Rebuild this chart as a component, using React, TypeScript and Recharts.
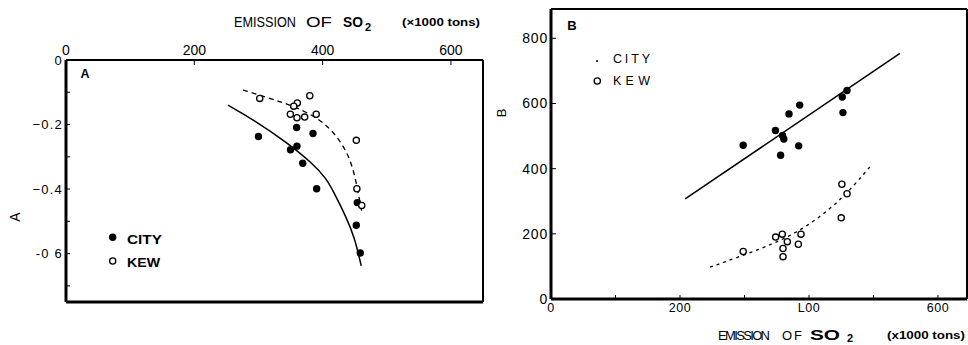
import React from 'react';
import { ComposedChart, XAxis, YAxis, Scatter, Line } from 'recharts';

const FONT = '"Liberation Sans", Arial, Helvetica, sans-serif';

// ---------- Panel A ----------
const aTopTicks = [0, 200, 400, 600];
const aTopLabels: Record<string, string> = { '0': '0', '200': '200', '400': '400', '600': '600' };
const aBottomTicks = [100, 200, 300, 400, 500, 600];
const aYTicks = [0, -0.1, -0.2, -0.3, -0.4, -0.5, -0.6, -0.7];
const aYLabels: Record<string, string> = { '0': '0', '-0.2': '−0.2', '-0.4': '−0.4', '-0.6': '-0  6' };
const aRightTicks = [-0.1, -0.2, -0.4, -0.6];

const aCity = [
  { x: 300, y: -0.237 },
  { x: 359.5, y: -0.209 },
  { x: 385, y: -0.228 },
  { x: 350, y: -0.278 },
  { x: 360, y: -0.267 },
  { x: 369, y: -0.32 },
  { x: 390.7, y: -0.399 },
  { x: 454, y: -0.442 },
  { x: 452.5, y: -0.512 },
  { x: 458.7, y: -0.598 },
];
const aKew = [
  { x: 302, y: -0.119 },
  { x: 380, y: -0.111 },
  { x: 360.6, y: -0.133 },
  { x: 355, y: -0.143 },
  { x: 349.7, y: -0.168 },
  { x: 360, y: -0.179 },
  { x: 372, y: -0.177 },
  { x: 390, y: -0.168 },
  { x: 452.5, y: -0.249 },
  { x: 453.4, y: -0.399 },
  { x: 461, y: -0.451 },
];
const aCityFit = [
  { x: 252.6, y: -0.14 },
  { x: 291.5, y: -0.184 },
  { x: 343.5, y: -0.254 },
  { x: 384.9, y: -0.321 },
  { x: 405.8, y: -0.368 },
  { x: 416, y: -0.404 },
  { x: 436.9, y: -0.487 },
  { x: 449.8, y: -0.55 },
  { x: 460.2, y: -0.638 },
];
const aKewFit = [
  { x: 276, y: -0.093 },
  { x: 317.5, y: -0.119 },
  { x: 351.3, y: -0.14 },
  { x: 395.3, y: -0.181 },
  { x: 421.3, y: -0.233 },
  { x: 439.4, y: -0.29 },
  { x: 449.8, y: -0.352 },
  { x: 457.6, y: -0.435 },
  { x: 461.8, y: -0.477 },
];

// ---------- Panel B ----------
const bBottomTicks = [0, 100, 200, 300, 400, 500, 600];
const bBottomLabels: Record<string, string> = { '0': '0', '200': '200', '400': 'L00', '600': '600' };
const bTopTicks = [400];
const bYTicks = [0, 200, 400, 600, 800];
const bRightTicks = [200, 400, 600];

const bCity = [
  { x: 298, y: 472 },
  { x: 348, y: 517 },
  { x: 359, y: 502 },
  { x: 361, y: 491 },
  { x: 356, y: 441 },
  { x: 369, y: 568 },
  { x: 385.6, y: 595 },
  { x: 384, y: 470 },
  { x: 451.6, y: 620 },
  { x: 459, y: 640 },
  { x: 452.7, y: 572 },
];
const bKew = [
  { x: 298, y: 145.6 },
  { x: 348.3, y: 190 },
  { x: 358.6, y: 199 },
  { x: 366.4, y: 176 },
  { x: 359.7, y: 155 },
  { x: 359.7, y: 130 },
  { x: 383.5, y: 168 },
  { x: 387.6, y: 199 },
  { x: 451, y: 352 },
  { x: 459, y: 323 },
  { x: 450, y: 249 },
];
const bCityFit = [
  { x: 208, y: 307 },
  { x: 541, y: 754 },
];
const bKewFit = [
  { x: 246.5, y: 97.5 },
  { x: 329.1, y: 156 },
  { x: 381, y: 202 },
  { x: 432.6, y: 274 },
  { x: 468.7, y: 345.5 },
  { x: 497.2, y: 412 },
];

const Filled = (p: any) => <circle cx={p.cx} cy={p.cy} r={3.7} fill="#000" />;
const Open = (p: any) => (
  <circle cx={p.cx} cy={p.cy} r={3.1} fill="#fff" stroke="#000" strokeWidth={1.3} />
);

const tickStyle = { fontSize: 13, fill: '#000', fontFamily: FONT };

function PanelA() {
  return (
    <ComposedChart
      width={490}
      height={345}
      margin={{ top: 30, right: 6, bottom: 33, left: 6 }}
      style={{ fontFamily: FONT }}
    >
      <XAxis
        xAxisId="top"
        orientation="top"
        type="number"
        dataKey="x"
        domain={[0, 650]}
        ticks={aTopTicks}
        tickFormatter={(v: number) => aTopLabels[String(v)] ?? ''}
        height={30}
        tickSize={-5}
        tickMargin={10}
        axisLine={{ stroke: '#000', strokeWidth: 2 }}
        tickLine={{ stroke: '#000', strokeWidth: 1 }}
        tick={{ ...tickStyle, fontSize: 14 }}
        interval={0}
      />
      <XAxis
        xAxisId="bottom"
        orientation="bottom"
        type="number"
        dataKey="x"
        domain={[0, 650]}
        ticks={aBottomTicks}
        tickFormatter={() => ''}
        height={10}
        tickSize={-4}
        axisLine={{ stroke: '#000', strokeWidth: 3 }}
        tickLine={{ stroke: '#000', strokeWidth: 1 }}
        interval={0}
      />
      <YAxis
        yAxisId="left"
        orientation="left"
        type="number"
        dataKey="y"
        domain={[-0.75, 0]}
        ticks={aYTicks}
        tickFormatter={(v: number) => aYLabels[String(v)] ?? ''}
        width={60}
        tickSize={-4}
        tickMargin={7}
        axisLine={{ stroke: '#000', strokeWidth: 3 }}
        tickLine={{ stroke: '#000', strokeWidth: 1 }}
        tick={{ ...tickStyle, fontSize: 13, letterSpacing: 1.2 }}
        interval={0}
      />
      <YAxis
        yAxisId="right"
        orientation="right"
        type="number"
        dataKey="y"
        domain={[-0.75, 0]}
        ticks={aRightTicks}
        tickFormatter={() => ''}
        width={1}
        tickSize={-5}
        axisLine={{ stroke: '#000', strokeWidth: 2 }}
        tickLine={{ stroke: '#000', strokeWidth: 1 }}
        interval={0}
      />
      <Line
        data={aCityFit}
        dataKey="y"
        xAxisId="top"
        yAxisId="left"
        type="basis"
        stroke="#000"
        strokeWidth={1.5}
        dot={false}
        isAnimationActive={false}
      />
      <Line
        data={aKewFit}
        dataKey="y"
        xAxisId="top"
        yAxisId="left"
        type="basis"
        stroke="#000"
        strokeWidth={1.3}
        strokeDasharray="5 4"
        dot={false}
        isAnimationActive={false}
      />
      <Scatter data={aCity} xAxisId="top" yAxisId="left" shape={Filled} isAnimationActive={false} />
      <Scatter data={aKew} xAxisId="top" yAxisId="left" shape={Open} isAnimationActive={false} />
    </ComposedChart>
  );
}

function PanelB() {
  return (
    <ComposedChart
      width={488}
      height={345}
      margin={{ top: 8, right: 0, bottom: 16, left: 11 }}
      style={{ fontFamily: FONT }}
    >
      <XAxis
        xAxisId="top"
        orientation="top"
        type="number"
        dataKey="x"
        domain={[0, 645]}
        ticks={bTopTicks}
        tickFormatter={() => ''}
        height={1}
        tickSize={-6}
        axisLine={{ stroke: '#000', strokeWidth: 2 }}
        tickLine={{ stroke: '#000', strokeWidth: 1 }}
        interval={0}
      />
      <XAxis
        xAxisId="bottom"
        orientation="bottom"
        type="number"
        dataKey="x"
        domain={[0, 645]}
        ticks={bBottomTicks}
        tickFormatter={(v: number) => bBottomLabels[String(v)] ?? ''}
        height={30}
        tickSize={-4}
        tickMargin={8}
        axisLine={{ stroke: '#000', strokeWidth: 3 }}
        tickLine={{ stroke: '#000', strokeWidth: 1 }}
        tick={{ ...tickStyle, fontSize: 12.5, letterSpacing: 0.5 }}
        interval={0}
      />
      <YAxis
        yAxisId="left"
        orientation="left"
        type="number"
        dataKey="y"
        domain={[0, 890]}
        ticks={bYTicks}
        width={60}
        tickSize={-5}
        tickMargin={8}
        axisLine={{ stroke: '#000', strokeWidth: 3 }}
        tickLine={{ stroke: '#000', strokeWidth: 1 }}
        tick={{ ...tickStyle, fontSize: 14, letterSpacing: 0.8 }}
        interval={0}
      />
      <YAxis
        yAxisId="right"
        orientation="right"
        type="number"
        dataKey="y"
        domain={[0, 890]}
        ticks={bRightTicks}
        tickFormatter={() => ''}
        width={1}
        tickSize={-5}
        axisLine={{ stroke: '#000', strokeWidth: 2 }}
        tickLine={{ stroke: '#000', strokeWidth: 1 }}
        interval={0}
      />
      <Line
        data={bCityFit}
        dataKey="y"
        xAxisId="bottom"
        yAxisId="left"
        type="linear"
        stroke="#000"
        strokeWidth={1.5}
        dot={false}
        isAnimationActive={false}
      />
      <Line
        data={bKewFit}
        dataKey="y"
        xAxisId="bottom"
        yAxisId="left"
        type="basis"
        stroke="#000"
        strokeWidth={1.3}
        strokeDasharray="3 4"
        dot={false}
        isAnimationActive={false}
      />
      <Scatter data={bCity} xAxisId="bottom" yAxisId="left" shape={Filled} isAnimationActive={false} />
      <Scatter data={bKew} xAxisId="bottom" yAxisId="left" shape={Open} isAnimationActive={false} />
    </ComposedChart>
  );
}

function Overlay() {
  const t = { fontFamily: FONT, fill: '#000' } as const;
  return (
    <svg
      width={968}
      height={345}
      style={{ position: 'absolute', left: 0, top: 0, pointerEvents: 'none' }}
    >
      {/* Panel A top title */}
      <text {...t} x={234} y={27} fontSize={14} textLength={62} lengthAdjust="spacingAndGlyphs">EMISSION</text>
      <text {...t} x={306} y={27} fontSize={14} textLength={26} lengthAdjust="spacingAndGlyphs">OF</text>
      <text {...t} x={343} y={27} fontSize={15} fontWeight="bold" textLength={20} lengthAdjust="spacingAndGlyphs">SO</text>
      <text {...t} x={365} y={31} fontSize={11} fontWeight="bold">2</text>
      <text {...t} x={402} y={26} fontSize={11} fontWeight="bold" textLength={78} lengthAdjust="spacingAndGlyphs">(×1000 tons)</text>
      {/* Panel A labels */}
      <text {...t} x={85} y={78} fontSize={12.5} fontWeight="bold" textAnchor="middle">A</text>
      <text {...t} x={0} y={0} fontSize={14} textAnchor="middle" transform="translate(20,217) rotate(-90)">A</text>
      {/* Panel A legend */}
      <circle cx={112.7} cy={237.3} r={3.7} fill="#000" />
      <text {...t} x={127} y={244} fontSize={13.5} fontWeight="bold" textLength={35} lengthAdjust="spacingAndGlyphs">CITY</text>
      <circle cx={112.7} cy={261} r={3.1} fill="#fff" stroke="#000" strokeWidth={1.3} />
      <text {...t} x={127} y={267} fontSize={13.5} fontWeight="bold" textLength={33} lengthAdjust="spacingAndGlyphs">KEW</text>

      {/* Panel B labels */}
      <text {...t} x={572} y={30} fontSize={13} fontWeight="bold" textAnchor="middle">B</text>
      <text {...t} x={0} y={0} fontSize={13} textAnchor="middle" transform="translate(506,113) rotate(-90)">B</text>
      {/* Panel B legend */}
      <circle cx={597} cy={61} r={1} fill="#000" />
      <text {...t} x={613} y={62.5} fontSize={12.5} textLength={37} lengthAdjust="spacing">CITY</text>
      <circle cx={597.3} cy={81} r={3.1} fill="#fff" stroke="#000" strokeWidth={1.3} />
      <text {...t} x={613} y={84.5} fontSize={12.5} textLength={37} lengthAdjust="spacing">KEW</text>
      {/* Panel B bottom title */}
      <text {...t} x={718} y={340} fontSize={13} textLength={52} lengthAdjust="spacing">EMISSION</text>
      <text {...t} x={782} y={340} fontSize={13} textLength={20} lengthAdjust="spacing">OF</text>
      <text {...t} x={810} y={340} fontSize={15.5} fontWeight="bold" textLength={30} lengthAdjust="spacingAndGlyphs">SO</text>
      <text {...t} x={847} y={342} fontSize={11} fontWeight="bold">2</text>
      <text {...t} x={887} y={339} fontSize={11} fontWeight="bold" textLength={78} lengthAdjust="spacingAndGlyphs">(x1000 tons)</text>
    </svg>
  );
}

export default function App() {
  return (
    <div style={{ position: 'absolute', left: 0, top: 0, width: 968, height: 345, background: '#fff' }}>
      <div style={{ position: 'absolute', left: 0, top: 0 }}>
        <PanelA />
      </div>
      <div style={{ position: 'absolute', left: 480, top: 0 }}>
        <PanelB />
      </div>
      <Overlay />
    </div>
  );
}
